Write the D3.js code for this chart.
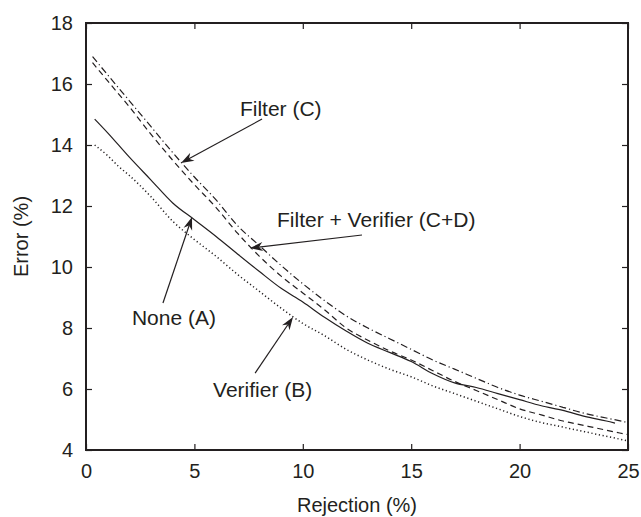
<!DOCTYPE html>
<html>
<head>
<meta charset="utf-8">
<script src="https://cdn.jsdelivr.net/npm/d3@7"></script>
<style>
  body { margin: 0; background: #fff; }
  text { font-family: "Liberation Sans", Arial, sans-serif; fill: #231f20; }
</style>
</head>
<body>
<div id="chart"></div>
<script>
// rejection (%) / error (%)
var filterX   = [0.3, 1, 2, 3, 4, 5, 6, 7, 8, 9, 10, 11, 12, 13, 14, 15, 16, 17, 18, 19, 20, 21, 22, 23, 24, 25];
var filterY   = [16.9, 16.3, 15.45, 14.6, 13.75, 12.95, 12.2, 11.35, 10.7, 10.05, 9.45, 8.9, 8.4, 8.0, 7.65, 7.3, 6.95, 6.65, 6.35, 6.05, 5.8, 5.6, 5.4, 5.2, 5.05, 4.9];
var bothX     = [0.3, 1, 2, 3, 4, 5, 6, 7, 8, 9, 10, 11, 12, 13, 14, 15, 16, 17, 18, 19, 20, 21, 22, 23, 24, 25];
var bothY     = [16.7, 16.1, 15.25, 14.35, 13.5, 12.7, 11.95, 11.1, 10.35, 9.7, 9.15, 8.6, 8.0, 7.6, 7.25, 6.95, 6.6, 6.25, 5.95, 5.65, 5.35, 5.15, 4.95, 4.8, 4.65, 4.5];
var noneX     = [0.4, 1, 2, 3, 4, 5, 6, 7, 8, 9, 10, 11, 12, 13, 14, 15, 16, 17, 18, 19, 20, 21, 22, 23, 24, 24.4];
var noneY     = [14.85, 14.4, 13.6, 12.85, 12.1, 11.55, 11.0, 10.42, 9.85, 9.3, 8.85, 8.35, 7.9, 7.5, 7.2, 6.9, 6.5, 6.2, 6.05, 5.85, 5.65, 5.45, 5.3, 5.1, 4.95, 4.88];
var verX      = [0.4, 1, 1.5, 2, 3, 4, 5, 6, 7, 8, 9, 10, 11, 12, 13, 14, 15, 16, 17, 18, 19, 20, 21, 22, 23, 24, 25];
var verY      = [14.0, 13.65, 13.3, 13.0, 12.3, 11.5, 10.9, 10.35, 9.75, 9.2, 8.65, 8.15, 7.75, 7.3, 6.95, 6.65, 6.4, 6.1, 5.85, 5.6, 5.35, 5.1, 4.9, 4.75, 4.6, 4.45, 4.3];

var xTicks = [0, 5, 10, 15, 20, 25];
var yTicks = [4, 6, 8, 10, 12, 14, 16, 18];

// label text, text anchor, arrow start, arrow tip (data units)
var labels = ["Filter (C)", "Filter + Verifier (C+D)", "None (A)", "Verifier (B)"];
var labelAt = [[7.1, 14.95], [8.81, 11.31], [2.12, 8.1], [5.86, 5.74]];
var arrowFrom = [[8.12, 14.85], [12.73, 11.05], [3.55, 8.82], [7.8, 6.52]];
var arrowTo = [[4.38, 13.41], [7.56, 10.62], [4.89, 11.64], [9.55, 8.36]];

var width = 641, height = 517;
var padLeft = 86, padTop = 23, plotW = 542, plotH = 427;
var ink = "#231f20";

var svg = d3.select("#chart").append("svg")
    .attr("width", width)
    .attr("height", height);

var x = d3.scaleLinear().domain([0, 25]).range([padLeft, padLeft + plotW]);
var y = d3.scaleLinear().domain([4, 18]).range([padTop + plotH, padTop]);

var series = [
    {xs: filterX, ys: filterY, dash: "7,3,1.2,3"},
    {xs: bothX, ys: bothY, dash: "6,4"},
    {xs: noneX, ys: noneY, dash: null},
    {xs: verX, ys: verY, dash: "1.2,2.6"}
];

var line = d3.line()
    .x(function(d) { return x(d[0]); })
    .y(function(d) { return y(d[1]); })
    .curve(d3.curveMonotoneX);

svg.append("g")
    .selectAll("path")
    .data(series)
    .enter()
    .append("path")
    .attr("d", function(s) { return line(d3.zip(s.xs, s.ys)); })
    .attr("fill", "none")
    .attr("stroke", ink)
    .attr("stroke-width", function(s) { return s.dash === "1.2,2.6" ? 1.5 : 1.2; })
    .attr("stroke-dasharray", function(s) { return s.dash; });

// axes: inward ticks on all sides
var fontSize = 20;
svg.append("g")
    .attr("transform", "translate(0," + (padTop + plotH) + ")")
    .call(d3.axisBottom(x).tickValues(xTicks).tickSize(-6).tickPadding(14).tickSizeOuter(0));
svg.append("g")
    .attr("transform", "translate(0," + padTop + ")")
    .call(d3.axisTop(x).tickValues(xTicks).tickSize(-6).tickFormat("").tickSizeOuter(0));
svg.append("g")
    .attr("transform", "translate(" + padLeft + ",0)")
    .call(d3.axisLeft(y).tickValues(yTicks).tickSize(-6).tickPadding(13).tickSizeOuter(0));
svg.append("g")
    .attr("transform", "translate(" + (padLeft + plotW) + ",0)")
    .call(d3.axisRight(y).tickValues(yTicks).tickSize(-6).tickFormat("").tickSizeOuter(0));

svg.selectAll(".domain").remove();
svg.selectAll(".tick line").attr("stroke", ink).attr("stroke-width", 1.2);
svg.selectAll(".tick text")
    .attr("font-size", fontSize)
    .attr("font-family", "'Liberation Sans', Arial, sans-serif")
    .attr("fill", ink);

svg.append("rect")
    .attr("x", padLeft)
    .attr("y", padTop)
    .attr("width", plotW)
    .attr("height", plotH)
    .attr("fill", "none")
    .attr("stroke", ink)
    .attr("stroke-width", 2);

svg.append("text")
    .attr("x", x(12.5))
    .attr("y", 512)
    .attr("text-anchor", "middle")
    .attr("font-size", fontSize)
    .text("Rejection (%)");

svg.append("text")
    .attr("transform", "translate(28," + (padTop + plotH / 2) + ") rotate(-90)")
    .attr("text-anchor", "middle")
    .attr("font-size", fontSize)
    .text("Error (%)");

// annotations
var notes = svg.append("g");
labels.forEach(function(name, i) {
    var x0 = x(arrowFrom[i][0]), y0 = y(arrowFrom[i][1]);
    var x1 = x(arrowTo[i][0]), y1 = y(arrowTo[i][1]);
    var ang = Math.atan2(y1 - y0, x1 - x0);
    var headLen = 13, headW = 4.5, notch = 9;
    var ux = Math.cos(ang), uy = Math.sin(ang);
    var bx = x1 - ux * headLen, by = y1 - uy * headLen;
    var nx = x1 - ux * notch, ny = y1 - uy * notch;

    notes.append("line")
        .attr("x1", x0).attr("y1", y0)
        .attr("x2", nx).attr("y2", ny)
        .attr("stroke", ink)
        .attr("stroke-width", 1.2);

    notes.append("path")
        .attr("d", "M" + x1 + "," + y1 +
            "L" + (bx - uy * headW) + "," + (by + ux * headW) +
            "L" + nx + "," + ny +
            "L" + (bx + uy * headW) + "," + (by - ux * headW) + "Z")
        .attr("fill", ink);

    notes.append("text")
        .attr("x", x(labelAt[i][0]))
        .attr("y", y(labelAt[i][1]))
        .attr("font-size", 21)
        .text(name);
});
</script>
</body>
</html>
